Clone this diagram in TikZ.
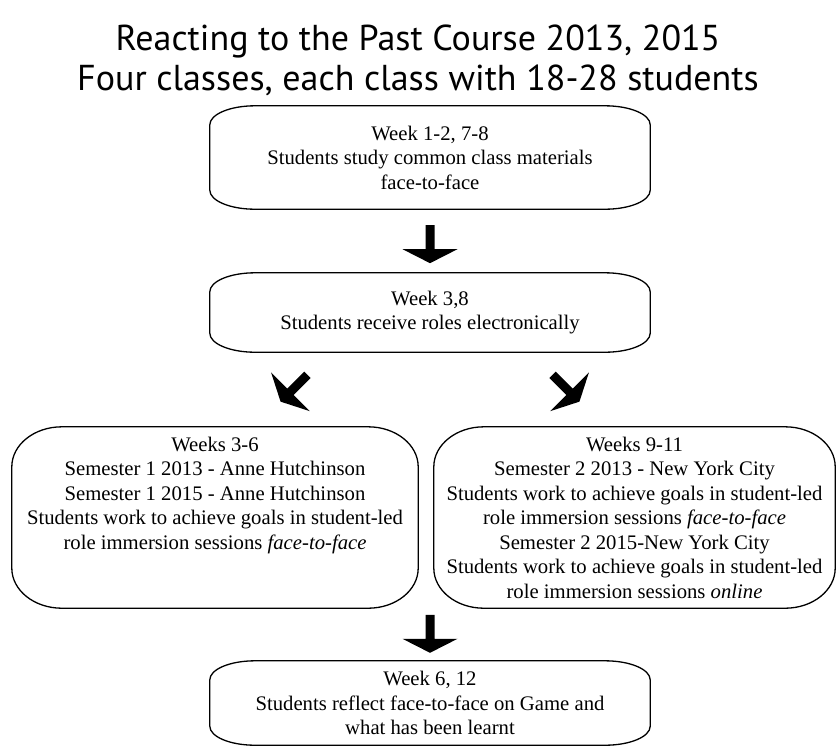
\documentclass[tikz,border=0pt]{standalone}
\usepackage{fontspec}
\setmainfont{Liberation Serif}
\newfontfamily\titlefont{PT Sans}
\usetikzlibrary{calc}

\tikzset{
  stage/.style={align=center, inner sep=0pt, font=\fontsize{20.7}{24.5}\selectfont},
  frameline/.style={line width=1.3pt},
  blockarrow/.pic={\fill (-4.5,19) -- (-4.5,-5) -- (-27.5,-5) -- (0,-19) -- (27.5,-5) -- (4.5,-5) -- (4.5,19) -- cycle;}
}

% frame with flat (elliptic) corners round a node: node, x radius, y radius
\newcommand\oframe[3]{%
  \draw[frameline] ($(#1.north west)+(#2,0)$) -- ($(#1.north east)+(-#2,0)$)
    .. controls ($(#1.north east)+(-0.448*#2,0)$) and ($(#1.north east)+(0,0.448*#3)$) .. ($(#1.north east)+(0,#3)$)
    -- ($(#1.south east)+(0,-#3)$)
    .. controls ($(#1.south east)+(0,-0.448*#3)$) and ($(#1.south east)+(-0.448*#2,0)$) .. ($(#1.south east)+(-#2,0)$)
    -- ($(#1.south west)+(#2,0)$)
    .. controls ($(#1.south west)+(0.448*#2,0)$) and ($(#1.south west)+(0,-0.448*#3)$) .. ($(#1.south west)+(0,-#3)$)
    -- ($(#1.north west)+(0,#3)$)
    .. controls ($(#1.north west)+(0,0.448*#3)$) and ($(#1.north west)+(0.448*#2,0)$) .. cycle;}

\begin{document}
\begin{tikzpicture}[x=1pt,y=1pt,yscale=-1,xscale=1]
\useasboundingbox (0,0) rectangle (837,748);

% --- 1. title ---
\node [font=\titlefont\fontsize{36}{40}\selectfont, align=center] (title) at (418,60)
    {Reacting to the Past Course 2013, 2015\\Four classes, each class with 18-28 students};

% --- 2. the five stages ---
\node [stage, minimum width=440pt, minimum height=103pt] (wk12) at (430,157.5)
    {Week 1-2, 7-8\\Students study common class materials\\face-to-face};
\node [stage, minimum width=440pt, minimum height=79pt] (wk38) at (430,312.5)
    {Week 3,8\\Students receive roles electronically};
\node [stage, minimum width=406pt, minimum height=181pt] (wk36) at (215,517.5)
    {Weeks 3-6\\Semester 1 2013 - Anne Hutchinson\\Semester 1 2015 - Anne Hutchinson\\
     Students work to achieve goals in student-led\\role immersion sessions \textit{face-to-face}\\ \mbox{}\\ \mbox{}};
\node [stage, minimum width=401pt, minimum height=181pt] (wk911) at (634.5,517.5)
    {Weeks 9-11\\Semester 2 2013 - New York City\\Students work to achieve goals in student-led\\
     role immersion sessions \textit{face-to-face}\\Semester 2 2015-New York City\\
     Students work to achieve goals in student-led\\role immersion sessions \textit{online}};
\node [stage, minimum width=440pt, minimum height=84pt] (wk612) at (430,703)
    {Week 6, 12\\Students reflect face-to-face on Game and\\what has been learnt};

\oframe{wk12}{45}{19}
\oframe{wk38}{45}{19}
\oframe{wk36}{50}{40}
\oframe{wk911}{50}{40}
\oframe{wk612}{45}{19}

% --- 3. block arrows ---
\pic at ($(wk12.south)!0.55!(wk38.north)$) {blockarrow};
\pic [rotate=-45] at ($(wk38.south)+(-136,36)$) {blockarrow};
\pic [rotate=45] at ($(wk38.south)+(136,36)$) {blockarrow};
\pic at ($(wk612.north)+(0,-27)$) {blockarrow};

\end{tikzpicture}
\end{document}
